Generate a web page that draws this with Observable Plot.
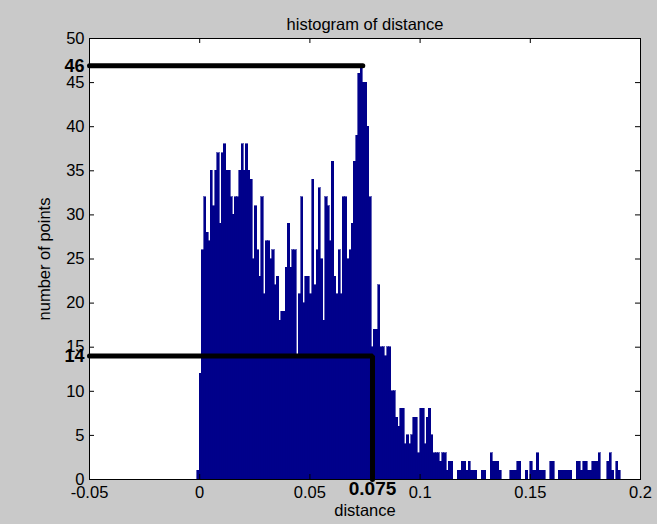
<!DOCTYPE html>
<html>
<head>
<meta charset="utf-8">
<script src="https://cdn.jsdelivr.net/npm/d3@7"></script>
<script src="https://cdn.jsdelivr.net/npm/@observablehq/plot@0.6"></script>
<style>
  html, body { margin: 0; padding: 0; background: #c9c9c9; }
</style>
</head>
<body>
<div id="chart"></div>
<script>
// ---- data ----
const binStart = -0.001;   // left edge of first bin
const binWidth = 0.001;    // bin width (distance units)
const counts = [
  1,
  12,26,32,28,27,35,31,35,37,29,37,38,35,35,32,30,32,32,35,38,35,38,35,34,25,31,
  26,23,32,21,27,27,25,26,22,23,
  18,19,19,24,29,24,26,26,14,21,32,20,23,23,21,34,22,26,33,25,18,32,31,27,36,23,
  21,26,21,32,32,25,26,29,36,39,46,47,45,45,40,32,15,17,17,22,15,15,14,15,15,
  10,10,7,6,8,8,4,5,4,5,7,7,3,8,8,4,7,8,
  5,3,3,3,2,3,3,1,2,2,
  0,0,1,1,2,2,1,2,1,1,
  1,0,0,1,1,0,0,3,2,2,
  2,1,0,0,0,0,1,1,1,2,
  2,0,0,1,0,2,1,1,3,1,
  1,1,0,0,2,2,0,0,1,1,
  1,1,1,1,0,0,2,2,1,2,
  2,1,1,2,2,2,3,0,0,0,
  2,3,1,0,2,1
];
const xTicks = [-0.05, 0, 0.05, 0.1, 0.15, 0.2];
const xTickLabels = ["-0.05", "0", "0.05", "0.1", "0.15", "0.2"];
const yTicks = [0, 5, 10, 15, 20, 25, 30, 35, 40, 45, 50];
const titleText = "histogram of distance";
const xLabel = "distance";
const yLabel = "number of points";
// annotations drawn on the reference
const peakLine = [{x: -0.05, y: 46.9}, {x: 0.074, y: 46.9}];
const peakLabel = [{y: 46.9, text: "46"}];
const cutLine = [{x: -0.05, y: 14}, {x: 0.0784, y: 14}, {x: 0.0784, y: 0}];
const cutLabelY = [{y: 14, text: "14"}];
const cutLabelX = [{x: 0.0784, text: "0.075"}];

const bins = counts.map((c, i) => ({
  x1: binStart + i * binWidth,
  x2: binStart + (i + 1) * binWidth,
  count: c
}));

const W = 657, H = 524;
const mL = 89, mR = 17, mT = 38, mB = 45;
const innerW = W - mL - mR, innerH = H - mT - mB;
const tick = 5;
const font = "'Liberation Sans', Arial, Helvetica, sans-serif";
const fs = 16.5;
const barColor = "#00008b";

const chart = Plot.plot({
  width: W,
  height: H,
  marginLeft: mL, marginRight: mR, marginTop: mT, marginBottom: mB,
  style: {background: "#c9c9c9", fontFamily: font, fontSize: fs + "px", color: "#000", overflow: "visible"},
  x: {domain: [-0.05, 0.2]},
  y: {domain: [0, 50]},
  marks: [
    Plot.frame({fill: "white", stroke: "none"}),
    Plot.rectY(bins.filter(d => d.count > 0), {x1: "x1", x2: "x2", y: "count", fill: barColor,
      stroke: barColor, strokeWidth: 0.6, shapeRendering: "crispEdges"}),
    // inward ticks on all four sides
    Plot.tickX(xTicks, {x: d => d, insetTop: innerH - tick, stroke: "#000"}),
    Plot.tickX(xTicks, {x: d => d, insetBottom: innerH - tick, stroke: "#000"}),
    Plot.tickY(yTicks, {y: d => d, insetRight: innerW - tick, stroke: "#000"}),
    Plot.tickY(yTicks, {y: d => d, insetLeft: innerW - tick, stroke: "#000"}),
    Plot.frame({stroke: "#000", strokeWidth: 1}),
    Plot.axisX(xTicks, {tickSize: 0, tickPadding: 7, label: null, fontSize: fs,
      tickFormat: d => xTickLabels[xTicks.indexOf(d)]}),
    Plot.axisY(yTicks, {tickSize: 0, tickPadding: 5, label: null, fontSize: fs}),
    // titles
    Plot.text([titleText], {frameAnchor: "top", dy: -20, fontSize: fs, text: d => d}),
    Plot.text([xLabel], {frameAnchor: "bottom", dy: 36, fontSize: fs, text: d => d}),
    Plot.text([yLabel], {frameAnchor: "left", dx: -45, rotate: -90, textAnchor: "middle",
      fontSize: fs, text: d => d}),
    // annotations
    Plot.line(peakLine, {x: "x", y: "y", stroke: "#000", strokeWidth: 5, strokeLinecap: "round"}),
    Plot.line(cutLine, {x: "x", y: "y", stroke: "#000", strokeWidth: 5, strokeLinecap: "round", strokeLinejoin: "miter"}),
    Plot.text(peakLabel, {y: "y", text: "text", frameAnchor: "left", dx: -5, textAnchor: "end",
      fontWeight: "bold", fontSize: 18}),
    Plot.text(cutLabelY, {y: "y", text: "text", frameAnchor: "left", dx: -5, textAnchor: "end",
      fontWeight: "bold", fontSize: 18}),
    Plot.text(cutLabelX, {x: "x", text: "text", frameAnchor: "bottom", dy: 15,
      fontWeight: "bold", fontSize: 19})
  ]
});
document.getElementById("chart").appendChild(chart);
</script>
</body>
</html>
